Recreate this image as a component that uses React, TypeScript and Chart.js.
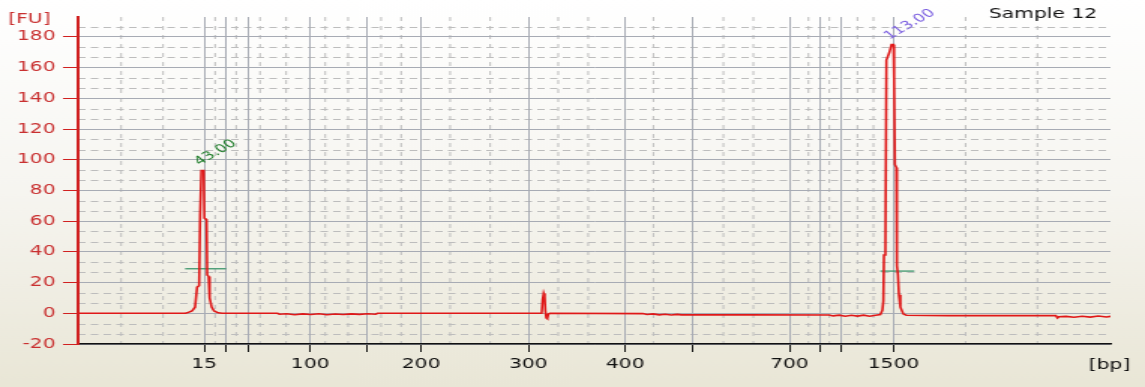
import React, { useEffect, useRef } from "react";
import { Chart, registerables } from "chart.js";

Chart.register(...registerables);

// Migration time (s) and fluorescence (FU) of the electropherogram trace
const traceTime = [
  19.0, 24.3, 24.39, 24.63, 24.78, 24.88, 24.98, 25.03, 25.07, 25.09, 25.21, 25.24, 25.35, 25.38, 25.45, 25.5, 25.6,
  25.72, 25.92, 26.12, 28.85, 28.95, 29.3, 29.7, 30.1, 30.5, 30.9, 31.3, 31.7, 32.1, 32.5, 32.9, 33.3, 33.7, 33.8,
  41.9, 41.95, 42.0, 42.05, 42.08, 42.13, 42.18, 42.23, 42.3, 46.9, 47.1, 47.4, 47.7, 48.0, 48.3, 48.6, 48.8, 52.0,
  56.1, 56.3, 56.6, 56.9, 57.2, 57.5, 57.8, 58.1, 58.4, 58.63, 58.73, 58.78, 58.81, 58.88, 58.93, 59.08, 59.18, 59.28,
  59.31, 59.35, 59.42, 59.45, 59.5, 59.55, 59.62, 59.77, 59.92, 62.0, 67.3, 67.38, 67.45, 67.8, 68.2, 68.6,
  69.0, 69.4, 69.8, 70.0,
];
const traceFU = [
  0, 0, 0.3, 1.5, 4, 17, 18, 64, 64, 93, 93, 62, 61, 25, 24, 10, 4,
  1.5, 0.3, 0, 0, -0.6, -0.3, -0.9, -0.4, -0.8, -0.3, -0.9, -0.5, -0.8, -0.4, -0.7, -0.3, -0.6, 0,
  0, 9, 13, 11, 2, -3, -3.5, -0.5, 0, -0.2, -0.8, -0.4, -1, -0.6, -1.1, -0.7, -1, -1,
  -1.1, -1.7, -1.2, -1.9, -1.3, -1.8, -1.2, -1.9, -1.3, -0.8, 2, 8, 38, 40, 165, 170, 175, 175,
  153, 97, 95, 31, 25, 12, 4, -0.5, -1.3, -1.5, -1.5, -3, -2.2, -2, -2.6, -1.9,
  -2.5, -1.8, -2.4, -2,
];

// Ladder positions (s) on the x axis and their bp labels
const xTickTimes = [25.23, 26.31, 27.45, 30.47, 33.28, 35.95, 41.24, 46.03, 49.39, 54.14, 55.62, 56.71, 59.28];
const xTickLabels = ["15", "", "", "100", "", "200", "300", "400", "", "700", "", "", "1500"];
const minorTimes = [
  21.13, 23.2, 25.77, 26.81, 27.99, 29.28, 31.21, 32.34, 33.97, 34.96, 37.38, 39.36, 42.72, 44.2, 47.42, 50.88,
  52.36, 55.08, 56.11, 57.5, 58.29, 62.84, 66.39,
];
const yTicks = [-20, 0, 20, 40, 60, 80, 100, 120, 140, 160, 180];

// Peak annotations
const peakTimes = [25.15, 59.23];
const peakFU = [93, 175];
const peakLabels = ["43.00", "113.00"];
const peakColors = ["#1f7d2a", "#7a5ee0"];

// Marker threshold bars
const markerStart = [24.29, 58.63];
const markerEnd = [26.31, 60.31];
const markerFU = [29, 27.5];

const W = 1145;
const H = 387;
const S = 1.5;
const IW = Math.round(W / S);
const FONT = "'DejaVu Sans', Verdana, sans-serif";

const decor = {
  id: "decor",
  beforeDraw(chart: any) {
    const { ctx, chartArea, scales } = chart;
    const { left, right, top, bottom } = chartArea;
    const x = scales.x;
    const y = scales.y;
    ctx.save();
    const g = ctx.createLinearGradient(0, 0, 0, chart.height);
    g.addColorStop(0, "#ffffff");
    g.addColorStop(0.5, "#f6f5f0");
    g.addColorStop(1, "#e9e6d6");
    ctx.fillStyle = g;
    ctx.fillRect(0, 0, chart.width, chart.height);
    ctx.strokeStyle = "#bdbdbd";
    ctx.lineWidth = 1;
    ctx.setLineDash([5, 3.5]);
    for (let k = 1; k < 40; k++) {
      if (k % 3 === 0) continue;
      const v = -20 + (k * 20) / 3;
      if (v >= y.max) break;
      const py = Math.round(y.getPixelForValue(v)) + 0.5;
      ctx.beginPath();
      ctx.moveTo(left, py);
      ctx.lineTo(right, py);
      ctx.stroke();
    }
    ctx.setLineDash([4, 5]);
    minorTimes.forEach((t) => {
      const px = x.getPixelForValue(t);
      ctx.beginPath();
      ctx.moveTo(px, top);
      ctx.lineTo(px, bottom);
      ctx.stroke();
    });
    ctx.restore();
  },
  afterDatasetsDraw(chart: any) {
    const { ctx, scales } = chart;
    ctx.save();
    ctx.font = `11.5px ${FONT}`;
    ctx.textAlign = "left";
    ctx.textBaseline = "alphabetic";
    peakTimes.forEach((t, i) => {
      const px = scales.x.getPixelForValue(t) - 2;
      const py = scales.y.getPixelForValue(peakFU[i]) - 5;
      ctx.save();
      ctx.translate(px, py);
      ctx.rotate((-40 * Math.PI) / 180);
      ctx.fillStyle = peakColors[i];
      ctx.fillText(peakLabels[i], 0, 0);
      ctx.restore();
    });
    ctx.restore();
  },
  afterDraw(chart: any) {
    const { ctx } = chart;
    ctx.save();
    ctx.font = `13.5px ${FONT}`;
    ctx.textBaseline = "alphabetic";
    ctx.textAlign = "left";
    ctx.fillStyle = "#c93030";
    ctx.fillText("[FU]", 5.5, 23);
    ctx.fillStyle = "#111111";
    ctx.fillText("Sample 12", 659, 18);
    ctx.fillText("[bp]", 725.5, 369);
    ctx.restore();
  },
};

export default function App() {
  const ref = useRef<HTMLCanvasElement>(null);
  useEffect(() => {
    document.body.style.margin = "0";
    const canvas = ref.current as HTMLCanvasElement;
    const markerSets = markerStart.map((s, i) => ({
      data: [
        { x: s, y: markerFU[i] },
        { x: markerEnd[i], y: markerFU[i] },
      ],
      borderColor: "#2f8f62",
      borderWidth: 1.2,
      pointRadius: 0,
      fill: false,
    }));
    const chart = new Chart(canvas, {
      type: "line",
      data: {
        datasets: [
          {
            data: traceTime.map((t, i) => ({ x: t, y: traceFU[i] })),
            borderColor: "#e01818",
            borderWidth: 1.6,
            pointRadius: 0,
            tension: 0,
            fill: false,
          },
          ...markerSets,
        ],
      },
      options: {
        responsive: false,
        maintainAspectRatio: false,
        devicePixelRatio: 1,
        animation: false,
        events: [],
        layout: { padding: { top: 17, right: IW - 740, left: 0, bottom: 0 } },
        plugins: { legend: { display: false }, tooltip: { enabled: false } },
        scales: {
          x: {
            type: "linear",
            min: 19,
            max: 70,
            afterBuildTicks: (s: any) => {
              s.ticks = xTickTimes.map((v) => ({ value: v }));
            },
            afterFit: (s: any) => {
              s.height = 43;
            },
            ticks: {
              autoSkip: false,
              maxRotation: 0,
              padding: 4,
              color: "#111111",
              font: { family: FONT, size: 13.5 },
              callback: (_v: any, i: number) => xTickLabels[i],
            },
            grid: { color: "#a7abb4", lineWidth: 1, tickColor: "#111111", tickLength: 8 },
            border: { color: "#111111", width: 1.5 },
          },
          y: {
            type: "linear",
            min: -20,
            max: 193,
            afterBuildTicks: (s: any) => {
              s.ticks = yTicks.map((v) => ({ value: v }));
            },
            afterFit: (s: any) => {
              s.width = 52;
            },
            ticks: {
              padding: 5,
              color: "#c93030",
              font: { family: FONT, size: 13.5 },
            },
            grid: { color: "#a7abb4", lineWidth: 1, tickColor: "#d02020", tickLength: 10 },
            border: { color: "#d02020", width: 2 },
          },
        },
      },
      plugins: [decor],
    } as any);
    return () => chart.destroy();
  }, []);
  return (
    <div style={{ width: W, height: H, overflow: "hidden" }}>
      <canvas ref={ref} width={IW} height={H} style={{ width: `${W}px`, height: `${H}px`, display: "block" }} />
    </div>
  );
}
